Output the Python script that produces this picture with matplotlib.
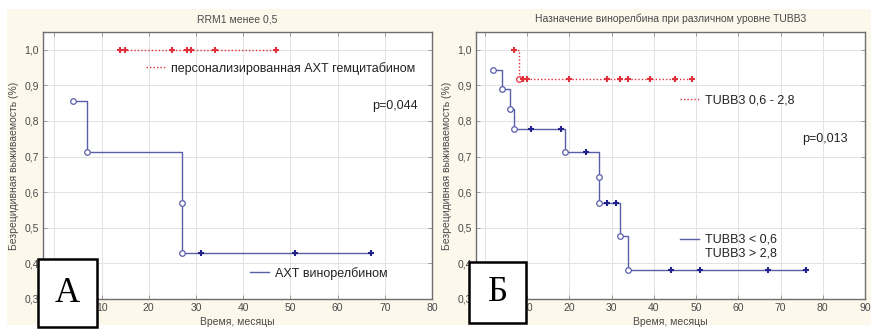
import matplotlib
matplotlib.use("Agg")
import matplotlib.pyplot as plt
from matplotlib.patches import Rectangle
from matplotlib.ticker import FuncFormatter

# ---------------- data ----------------
# Panel A: RRM1 < 0.5
a_title = "RRM1 менее 0,5"
a_gem_label = "персонализированная АХТ гемцитабином"
a_gem_cens_t = [14, 15, 25, 28, 29, 34, 47]
a_gem_surv = 1.0
a_vin_label = "АХТ винорелбином"
a_vin_event_t = [4, 7, 27, 27]
a_vin_event_s = [0.857, 0.714, 0.571, 0.429]
a_vin_cens_t = [31, 51, 67]
a_vin_cens_s = [0.429, 0.429, 0.429]
a_p = "p=0,044"

# Panel Б: TUBB3
b_title = "Назначение винорелбина при различном уровне TUBB3"
b_mid_label = "TUBB3 0,6 - 2,8"
b_mid_event_t = [8]
b_mid_event_s = [0.917]
b_mid_cens_t = [7, 9, 10, 20, 29, 32, 34, 39, 45, 49]
b_mid_cens_s = [1.0, 0.917, 0.917, 0.917, 0.917, 0.917, 0.917, 0.917, 0.917, 0.917]
b_ext_label1 = "TUBB3 < 0,6"
b_ext_label2 = "TUBB3 > 2,8"
b_ext_event_t = [2, 4, 6, 7, 19, 27, 27, 32, 34]
b_ext_event_s = [0.944, 0.889, 0.833, 0.778, 0.713, 0.642, 0.571, 0.476, 0.381]
b_ext_cens_t = [11, 18, 24, 29, 31, 44, 51, 67, 76]
b_ext_cens_s = [0.778, 0.778, 0.713, 0.571, 0.571, 0.381, 0.381, 0.381, 0.381]
b_p = "p=0,013"

y_label = "Безрецидивная выживаемость (%)"
x_label = "Время, месяцы"
y_ticks = [0.3, 0.4, 0.5, 0.6, 0.7, 0.8, 0.9, 1.0]

RED = "#e0303c"
BLUE = "#5a5ea8"
BLUE_DARK = "#22228c"
CREAM = "#fcf8ec"
TXT = "#4a4a4a"

plt.rcParams['font.family'] = ['Liberation Sans', 'DejaVu Sans']

fig = plt.figure(figsize=(8.71, 3.31), dpi=100)
fig.patch.set_facecolor("white")
fig.patches.append(Rectangle((7 / 871, 1 - 325 / 331), 1 - 7 / 871, (325 - 9) / 331,
                             transform=fig.transFigure, facecolor=CREAM,
                             edgecolor="none", zorder=-10))

axA = fig.add_axes([43 / 871, 1 - 299 / 331, (432 - 43) / 871, (299 - 32) / 331])
axB = fig.add_axes([476 / 871, 1 - 299 / 331, (865 - 476) / 871, (299 - 32) / 331])


def km_line(event_t, event_s, start_t=None, start_s=None, end_t=None):
    xs, ys = [], []
    if start_t is not None:
        xs.append(start_t)
        ys.append(start_s)
    xs += list(event_t)
    ys += list(event_s)
    if end_t is not None:
        xs.append(end_t)
        ys.append(event_s[-1])
    return xs, ys


comma = FuncFormatter(lambda v, p: ("%.1f" % v).replace(".", ","))


def style(ax, xmin, xmax, xticks):
    ax.set_facecolor("white")
    ax.set_xlim(xmin, xmax)
    ax.set_ylim(0.3, 1.05)
    ax.set_xticks(xticks)
    ax.set_yticks(y_ticks)
    ax.yaxis.set_major_formatter(comma)
    ax.grid(True, color="#e2e2e2", linewidth=0.7)
    ax.set_axisbelow(True)
    for s in ax.spines.values():
        s.set_color("#6e6e6e")
        s.set_linewidth(1.0)
    ax.tick_params(direction="in", length=3, width=0.7, color="#999999",
                   labelsize=7.5, labelcolor=TXT, top=True, right=True, pad=3)
    ax.set_xlabel(x_label, fontsize=7.5, color=TXT, labelpad=3)
    ax.set_ylabel(y_label, fontsize=7.5, color=TXT, labelpad=4)


# ----- Panel A -----
style(axA, -2.4, 80, list(range(0, 81, 10)))
axA.set_title(a_title, fontsize=7.5, color=TXT, pad=7)
gx, gy = [a_gem_cens_t[0], a_gem_cens_t[-1]], [a_gem_surv, a_gem_surv]
lgA, = axA.plot(gx, gy, linestyle=(0, (1, 1.5)), color=RED, linewidth=1.0)
axA.plot(a_gem_cens_t, [a_gem_surv] * len(a_gem_cens_t), linestyle="none",
         marker="+", color=RED, markersize=5, markeredgewidth=1.5)
vx, vy = km_line(a_vin_event_t, a_vin_event_s, end_t=a_vin_cens_t[-1])
lvA, = axA.plot(vx, vy, drawstyle="steps-post", color=BLUE, linewidth=1.0)
axA.plot(a_vin_event_t, a_vin_event_s, linestyle="none", marker="o",
         markerfacecolor="white", markeredgecolor=BLUE, markersize=4, markeredgewidth=0.9)
axA.plot(a_vin_cens_t, a_vin_cens_s, linestyle="none", marker="+",
         color=BLUE_DARK, markersize=5, markeredgewidth=1.5)
axA.text(0.845, 0.723, a_p, transform=axA.transAxes, fontsize=9, color="#222222",
         va="center", ha="left")
legA1 = axA.legend([lgA], [a_gem_label], loc="center left", bbox_to_anchor=(0.265, 0.865),
                   frameon=False, borderpad=0, borderaxespad=0, handlelength=1.5,
                   handletextpad=0.5, fontsize=9, labelcolor="#222222")
axA.add_artist(legA1)
axA.legend([lvA], [a_vin_label], loc="center left", bbox_to_anchor=(0.532, 0.097),
           frameon=False, borderpad=0, borderaxespad=0, handlelength=1.5,
           handletextpad=0.5, fontsize=9, labelcolor="#222222")

# ----- Panel Б -----
style(axB, -2.1, 90, list(range(0, 91, 10)))
axB.set_title(b_title, fontsize=7.5, color=TXT, pad=7)
mx, my = km_line(b_mid_event_t, b_mid_event_s, start_t=b_mid_cens_t[0],
                 start_s=b_mid_cens_s[0], end_t=b_mid_cens_t[-1])
lmB, = axB.plot(mx, my, drawstyle="steps-post", linestyle=(0, (1, 1.5)),
                color=RED, linewidth=1.0)
axB.plot(b_mid_event_t, b_mid_event_s, linestyle="none", marker="o",
         markerfacecolor="white", markeredgecolor=RED, markersize=4, markeredgewidth=0.9)
axB.plot(b_mid_cens_t, b_mid_cens_s, linestyle="none", marker="+", color=RED,
         markersize=5, markeredgewidth=1.5)
ex, ey = km_line(b_ext_event_t, b_ext_event_s, end_t=b_ext_cens_t[-1])
leB, = axB.plot(ex, ey, drawstyle="steps-post", color=BLUE, linewidth=1.0)
axB.plot(b_ext_event_t, b_ext_event_s, linestyle="none", marker="o",
         markerfacecolor="white", markeredgecolor=BLUE, markersize=4, markeredgewidth=0.9)
axB.plot(b_ext_cens_t, b_ext_cens_s, linestyle="none", marker="+",
         color=BLUE_DARK, markersize=5, markeredgewidth=1.5)
axB.text(0.838, 0.599, b_p, transform=axB.transAxes, fontsize=9, color="#222222",
         va="center", ha="left")
legB1 = axB.legend([lmB], [b_mid_label], loc="center left", bbox_to_anchor=(0.524, 0.745),
                   frameon=False, borderpad=0, borderaxespad=0, handlelength=1.5,
                   handletextpad=0.5, fontsize=9, labelcolor="#222222")
axB.add_artist(legB1)
axB.legend([leB], [b_ext_label1], loc="center left", bbox_to_anchor=(0.524, 0.221),
           frameon=False, borderpad=0, borderaxespad=0, handlelength=1.5,
           handletextpad=0.5, fontsize=9, labelcolor="#222222")
axB.text(0.588, 0.172, b_ext_label2, transform=axB.transAxes, fontsize=9,
         color="#222222", va="center", ha="left")

# ----- letter boxes -----
for (x0, y0, x1, y1, letter) in [(38, 259, 97, 327, "А"), (469, 262, 526, 323, "Б")]:
    fig.patches.append(Rectangle((x0 / 871, 1 - y1 / 331), (x1 - x0) / 871, (y1 - y0) / 331,
                                 transform=fig.transFigure, facecolor="white",
                                 edgecolor="black", linewidth=1.8, zorder=20))
    fig.text((x0 + x1) / 2 / 871, 1 - (y0 + y1) / 2 / 331, letter,
             fontfamily="Liberation Serif", fontsize=25, ha="center", va="center",
             color="black", zorder=21)

fig.savefig("out.png", dpi=100)
